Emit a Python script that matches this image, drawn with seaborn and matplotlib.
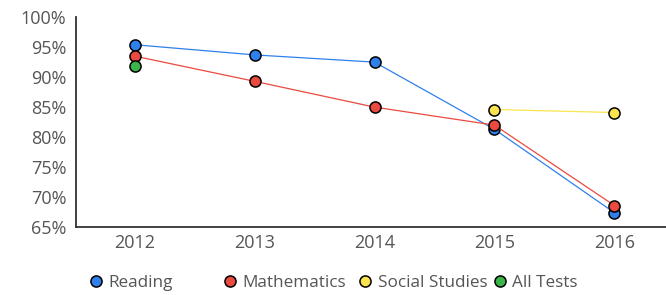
import seaborn as sns
import matplotlib.pyplot as plt
import pandas as pd

# data
years = [2012, 2013, 2014, 2015, 2016]
reading = [95.4, 93.7, 92.5, 81.3, 67.4]
mathematics = [93.5, 89.3, 85.0, 82.0, 68.6]
social_years = [2015, 2016]
social_studies = [84.6, 84.1]
all_years = [2012]
all_tests = [91.8]

series = [
    ("Reading", years, reading, "#2f80ed"),
    ("Mathematics", years, mathematics, "#ea4a3f"),
    ("Social Studies", social_years, social_studies, "#fbe44f"),
    ("All Tests", all_years, all_tests, "#3ab54a"),
]

sns.set_style("white")
plt.rcParams["font.family"] = ["Open Sans", "DejaVu Sans"]

fig = plt.figure(figsize=(6.66, 2.95), dpi=100)
ax = fig.add_axes([0.114, 0.23, 0.886, 0.712])

for name, xs, ys, col in series:
    df = pd.DataFrame({"year": xs, "value": ys})
    sns.lineplot(data=df, x="year", y="value", ax=ax, color=col, linewidth=0.9,
                 marker="o", markersize=8, markerfacecolor=col,
                 markeredgecolor="black", markeredgewidth=1.1, label=name)

ax.set_xlim(2011.51, 2016.43)
ax.set_ylim(65, 100)
ax.set_xticks(years)
ax.set_xticklabels([str(y) for y in years])
ax.set_yticks(range(65, 101, 5))
ax.set_yticklabels([f"{v}%" for v in range(65, 101, 5)])
ax.set_xlabel("")
ax.set_ylabel("")
ax.tick_params(axis="both", length=0, colors="#555555", labelsize=13)
ax.tick_params(axis="y", pad=7)
ax.tick_params(axis="x", pad=5)
for s in ["top", "right"]:
    ax.spines[s].set_visible(False)
for s in ["left", "bottom"]:
    ax.spines[s].set_color("#333333")
    ax.spines[s].set_linewidth(1.3)
ax.legend_.remove()

# legend entries at equal spacing, like the reference
handles, labels = ax.get_legend_handles_labels()
legend_x = [88, 222, 357, 492]
for h, lab, lx in zip(handles, labels, legend_x):
    leg = fig.legend([h], [lab], loc="center left",
                     bbox_to_anchor=(lx / 666, 1 - 283 / 295),
                     frameon=False, borderpad=0, borderaxespad=0,
                     handlelength=0.9, handletextpad=0.3, fontsize=12.3,
                     labelcolor="#555555")
    for line in leg.get_lines():
        line.set_linestyle("none")

fig.savefig("out.png", dpi=100)
plt.close()
